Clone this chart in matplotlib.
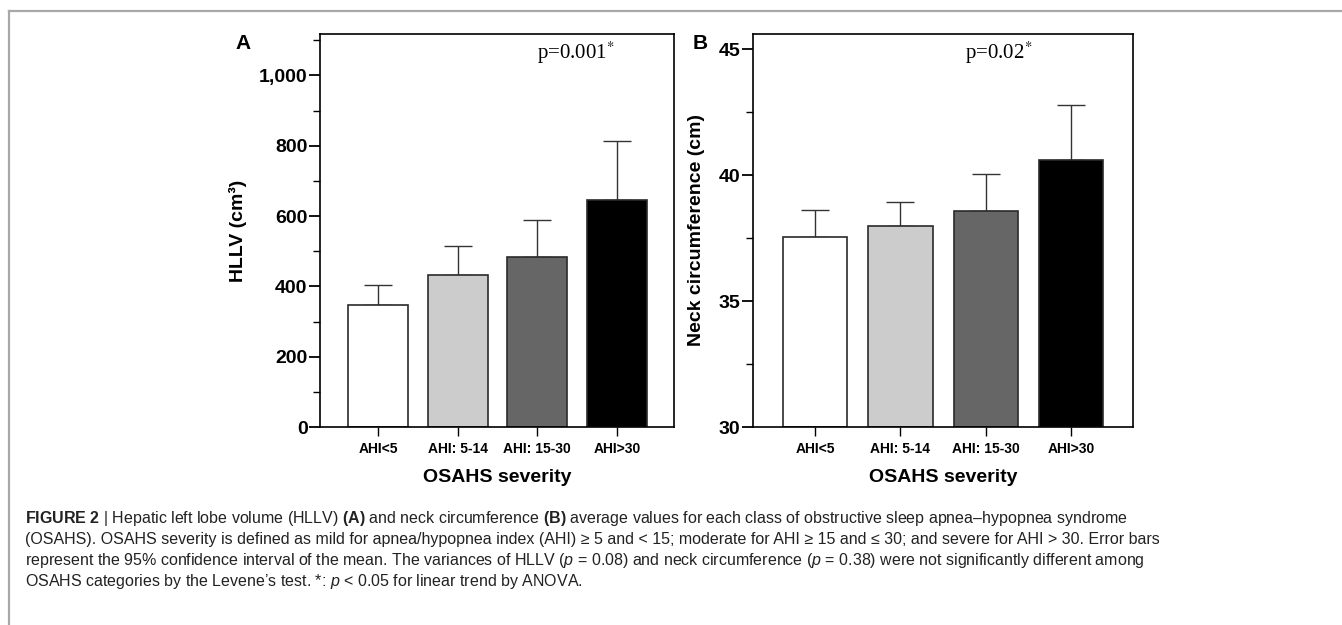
import matplotlib.pyplot as plt
import matplotlib.lines as mlines
from matplotlib.ticker import MultipleLocator, FuncFormatter
import numpy as np

categories = ["AHI<5", "AHI: 5-14", "AHI: 15-30", "AHI>30"]
bar_colors = ["#ffffff", "#cccccc", "#666666", "#000000"]

# panel A: hepatic left lobe volume (cm3), mean and upper 95% CI
hllv_mean = [347, 432, 484, 645]
hllv_upper = [404, 515, 588, 815]

# panel B: neck circumference (cm)
neck_mean = [37.56, 37.96, 38.57, 40.6]
neck_upper = [38.6, 38.95, 40.05, 42.8]

caption_lines = [
    r"$\mathbf{FIGURE\ 2}$ | Hepatic left lobe volume (HLLV) $\mathbf{(A)}$ and neck circumference $\mathbf{(B)}$ average values for each class of obstructive sleep apnea–hypopnea syndrome",
    "(OSAHS). OSAHS severity is defined as mild for apnea/hypopnea index (AHI) ≥ 5 and < 15; moderate for AHI ≥ 15 and ≤ 30; and severe for AHI > 30. Error bars",
    r"represent the 95% confidence interval of the mean. The variances of HLLV ($\mathit{p}$ = 0.08) and neck circumference ($\mathit{p}$ = 0.38) were not significantly different among",
    r"OSAHS categories by the Levene’s test. *: $\mathit{p}$ < 0.05 for linear trend by ANOVA.",
]

plt.rcParams['font.family'] = ['Liberation Sans', 'DejaVu Sans']
plt.rcParams['mathtext.fontset'] = 'custom'
plt.rcParams['mathtext.rm'] = 'Liberation Sans'
plt.rcParams['mathtext.it'] = 'Liberation Sans:italic'
plt.rcParams['mathtext.bf'] = 'Liberation Sans:bold'

fig = plt.figure(figsize=(13.42, 6.25), dpi=100)
axA = fig.add_axes([0.2385, 0.3168, 0.2638, 0.6288])
axB = fig.add_axes([0.5609, 0.3168, 0.2832, 0.6288])

x = np.arange(len(categories))


def draw_panel(ax, mean, upper, base, ylim, major, minor, ylabel, fmt, ptext, px, ylab_x):
    mean = np.array(mean)
    err = np.array(upper) - mean
    ax.bar(x, mean - base, bottom=base, width=0.75, color=bar_colors,
           edgecolor="#2a2a2a", linewidth=1.2, zorder=2)
    ax.errorbar(x, mean, yerr=[np.zeros_like(err), err], fmt="none",
                ecolor="#333333", elinewidth=1.0, capsize=10, capthick=1.0, zorder=1)
    ax.set_ylim(*ylim)
    ax.set_xlim(-0.73, 3.72)
    ax.yaxis.set_major_locator(MultipleLocator(major))
    ax.yaxis.set_minor_locator(MultipleLocator(minor))
    ax.yaxis.set_major_formatter(FuncFormatter(fmt))
    ax.set_xticks(x)
    ax.set_xticklabels(categories, fontsize=10, fontweight="bold")
    for lab in ax.get_yticklabels():
        lab.set_fontweight("bold")
    ax.tick_params(axis="y", which="major", length=8, width=1.3, labelsize=14, pad=1)
    ax.tick_params(axis="y", which="minor", length=5, width=1.0)
    ax.tick_params(axis="x", length=6.5, width=1.0, pad=4)
    for s in ax.spines.values():
        s.set_linewidth(1.2)
    ax.set_ylabel(ylabel, fontsize=14, fontweight="bold")
    ax.yaxis.set_label_coords(ylab_x, 0.5)
    ax.set_xlabel("OSAHS severity", fontsize=14, fontweight="bold")
    ax.xaxis.set_label_coords(0.5, -0.107)
    ax.text(px, 0.952, ptext, transform=ax.transAxes, ha="center", va="center",
            fontsize=15, family="Liberation Serif", math_fontfamily="stix")


draw_panel(axA, hllv_mean, hllv_upper, 0, (0, 1118), 200, 100,
           "HLLV (cm³)", lambda v, p: f"{int(v):,}", r"p=0.001$^{*}$", 0.723, -0.206)
draw_panel(axB, neck_mean, neck_upper, 30, (30, 45.6), 5, 2.5,
           "Neck circumference (cm)", lambda v, p: f"{int(v)}", r"p=0.02$^{*}$", 0.646, -0.1255)

fig.text(0.181, 0.931, "A", fontsize=15, fontweight="bold", ha="center", va="center")
fig.text(0.522, 0.931, "B", fontsize=15, fontweight="bold", ha="center", va="center")

# caption frame
fig.add_artist(mlines.Line2D([0.0067, 1.0], [0.983, 0.983], color="#a8a8a8", linewidth=1.6))
fig.add_artist(mlines.Line2D([0.0067, 0.0067], [0.0, 0.983], color="#a8a8a8", linewidth=1.6))

baselines = [523, 544, 565, 586]
for line, yb in zip(caption_lines, baselines):
    fig.text(25 / 1342, 1 - yb / 625, line, fontsize=11.5, color="#222222",
             ha="left", va="baseline")

fig.savefig("out.png", dpi=100)
